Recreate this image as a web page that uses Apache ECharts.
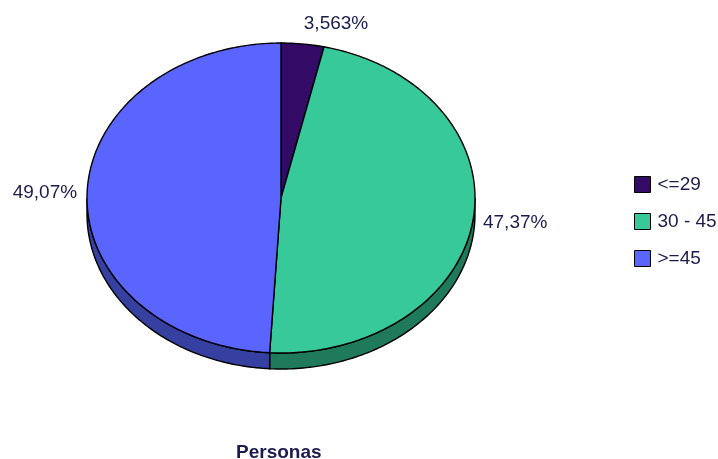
<!DOCTYPE html>
<html>
<head>
<meta charset="utf-8">
<script src="https://cdn.jsdelivr.net/npm/echarts@6/dist/echarts.min.js"></script>
<style>html,body{margin:0;padding:0;background:#fff;}#c{width:718px;height:459px;}</style>
</head>
<body>
<div id="c"></div>
<script>
// ---- data ----
const categories = ['<=29', '30 - 45', '>=45'];
const values = [3.563, 47.37, 49.07];
const chartTitle = 'Personas';

// ---- styles / layout ----
const topColors = ['#330a66', '#38c99b', '#5a64ff'];
const sideColors = ['#1e0840', '#1f7a5c', '#3540a0'];
const textColor = '#1c1c4c';
const FONT = 'Liberation Sans';
const CX = 281, CY = 198, RX = 194, RY = 155, DEPTH = 16;

function fmt(v) { return String(v).replace('.', ',') + '%'; }

function renderSlice(i) {
  return function (params, api) {
    const total = values.reduce((a, b) => a + b, 0);
    let start = 0;
    for (let j = 0; j < i; j++) start += values[j];
    const t0 = start / total * 360;
    const t1 = (start + values[i]) / total * 360;
    const pt = (t, dy) => [CX + RX * Math.sin(t * Math.PI / 180), CY - RY * Math.cos(t * Math.PI / 180) + dy];
    const arc = (a, b, dy) => {
      const n = Math.max(2, Math.ceil(b - a));
      const out = [];
      for (let k = 0; k <= n; k++) out.push(pt(a + (b - a) * k / n, dy));
      return out;
    };
    const children = [];
    const s0 = Math.max(t0, 90), s1 = Math.min(t1, 270);
    if (s1 > s0) {
      const up = arc(s0, s1, 0);
      const down = arc(s0, s1, DEPTH).reverse();
      children.push({
        type: 'polygon',
        shape: { points: up.concat(down) },
        style: { fill: sideColors[i], stroke: '#000', lineWidth: 1.4 }
      });
    }
    children.push({
      type: 'polygon',
      shape: { points: [[CX, CY]].concat(arc(t0, t1, 0)) },
      style: { fill: topColors[i], stroke: '#000', lineWidth: 1.4 }
    });
    const mid = (t0 + t1) / 2 * Math.PI / 180;
    const s = Math.sin(mid), c = Math.cos(mid);
    const lx = CX + (RX + 10) * s;
    const ly = CY - (RY + 20) * c;
    children.push({
      type: 'text',
      x: lx, y: ly,
      style: {
        text: fmt(values[i]),
        fill: textColor,
        font: '19px "' + FONT + '"',
        align: s > 0.05 ? 'left' : (s < -0.05 ? 'right' : 'center'),
        verticalAlign: 'middle'
      }
    });
    return { type: 'group', children: children };
  };
}

const chart = echarts.init(document.getElementById('c'));
chart.setOption({
  animation: false,
  backgroundColor: '#fff',
  title: {
    text: chartTitle,
    left: 236, top: 443, padding: 0,
    textStyle: { fontFamily: FONT, fontSize: 19, fontWeight: 'bold', color: textColor }
  },
  legend: {
    orient: 'vertical',
    left: 634, top: 175,
    padding: 0,
    itemWidth: 16, itemHeight: 16, itemGap: 18,
    icon: 'rect',
    data: categories,
    selectedMode: false,
    itemStyle: { borderColor: '#000', borderWidth: 1 },
    textStyle: { fontFamily: FONT, fontSize: 19, color: textColor, lineHeight: 16, padding: [0, 0, 0, 2] }
  },
  series: categories.map((name, i) => ({
    type: 'custom',
    name: name,
    coordinateSystem: 'none',
    silent: true,
    itemStyle: { color: topColors[i] },
    data: [values[i]],
    renderItem: renderSlice(i)
  }))
});
</script>
</body>
</html>
